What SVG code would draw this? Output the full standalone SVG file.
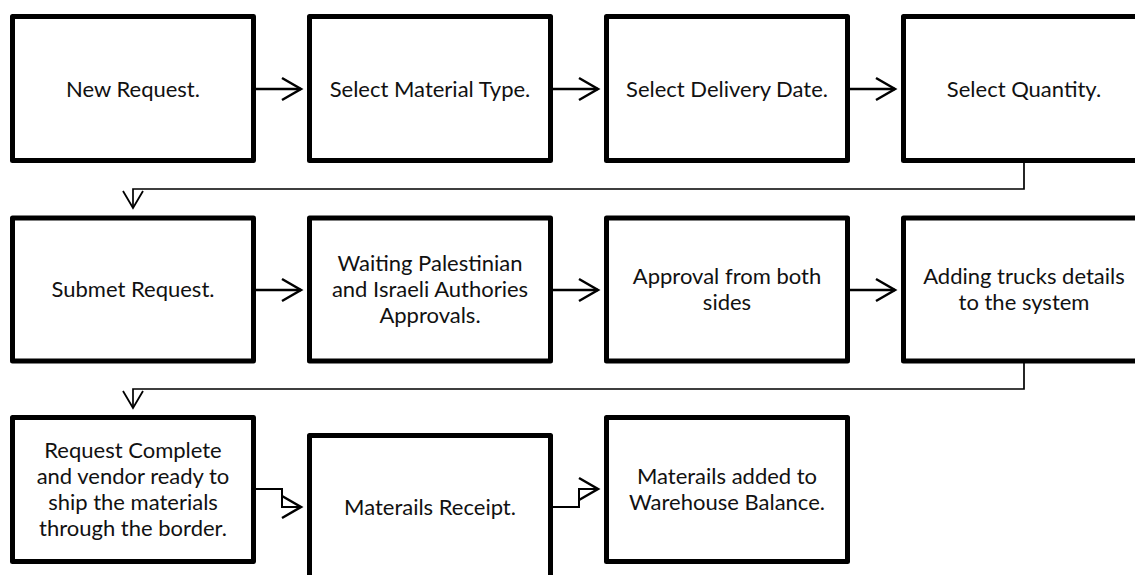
<svg xmlns="http://www.w3.org/2000/svg" width="1135" height="575" viewBox="0 0 1135 575">
  <style>
    .box { fill: #fff; stroke: #000; stroke-width: 5; stroke-linejoin: round; }
    .lbl { font-family: Lato, "Open Sans", "Liberation Sans", sans-serif; font-size: 22px; fill: #111; text-anchor: middle; }
    .flow { fill: none; stroke: #000; stroke-width: 2.5; marker-end: url(#chev); }
    .elbow { fill: none; stroke: #000; stroke-width: 2; marker-end: url(#chev); }
    .wrap { fill: none; stroke: #000; stroke-width: 1.7; marker-end: url(#chevThin); }
  </style>
  <defs>
    <!-- open chevron heads, sized in canvas pixels -->
    <marker id="chev" markerUnits="userSpaceOnUse" viewBox="0 0 24 26" markerWidth="24" markerHeight="26" refX="21" refY="13" orient="auto">
      <path d="M2,2 L21,13 L2,24" fill="none" stroke="#000" stroke-width="2.5"/>
    </marker>
    <marker id="chevThin" markerUnits="userSpaceOnUse" viewBox="0 0 24 26" markerWidth="24" markerHeight="26" refX="20" refY="13" orient="auto">
      <path d="M3,3 L20,13 L3,23" fill="none" stroke="#000" stroke-width="1.8"/>
    </marker>
  </defs>

  <g id="connectors">
    <!-- row 1 -->
    <path class="flow" d="M256,89 H301"/>
    <path class="flow" d="M553,89 H598"/>
    <path class="flow" d="M850,89 H895"/>
    <!-- wrap to row 2 -->
    <path class="wrap" d="M1024,162 V189 H133 V208"/>
    <!-- row 2 -->
    <path class="flow" d="M256,290 H301"/>
    <path class="flow" d="M553,290 H598"/>
    <path class="flow" d="M850,290 H895"/>
    <!-- wrap to row 3 -->
    <path class="wrap" d="M1024,362 V389 H133 V408"/>
    <!-- row 3 -->
    <path class="elbow" d="M256,489 H282 V507 H301"/>
    <path class="elbow" d="M553,507 H579 V489 H598"/>
  </g>

  <g id="new-request">
    <rect class="box" x="12.5" y="16.5" width="241" height="144"/>
    <text class="lbl" x="133" y="96.5">New Request.</text>
  </g>
  <g id="select-material-type">
    <rect class="box" x="309.5" y="16.5" width="241" height="144"/>
    <text class="lbl" x="430" y="96.5">Select Material Type.</text>
  </g>
  <g id="select-delivery-date">
    <rect class="box" x="606.5" y="16.5" width="241" height="144"/>
    <text class="lbl" x="727" y="96.5">Select Delivery Date.</text>
  </g>
  <g id="select-quantity">
    <rect class="box" x="903.5" y="16.5" width="241" height="144"/>
    <text class="lbl" x="1024" y="96.5">Select Quantity.</text>
  </g>

  <g id="submit-request">
    <rect class="box" x="12.5" y="218" width="241" height="143"/>
    <text class="lbl" x="133" y="297">Submet Request.</text>
  </g>
  <g id="waiting-approvals">
    <rect class="box" x="309.5" y="218" width="241" height="143"/>
    <text class="lbl" x="430" y="271">Waiting Palestinian</text>
    <text class="lbl" x="430" y="297">and Israeli Authories</text>
    <text class="lbl" x="430" y="323">Approvals.</text>
  </g>
  <g id="approval-both-sides">
    <rect class="box" x="606.5" y="218" width="241" height="143"/>
    <text class="lbl" x="727" y="284">Approval from both</text>
    <text class="lbl" x="727" y="310">sides</text>
  </g>
  <g id="adding-trucks">
    <rect class="box" x="903.5" y="218" width="241" height="143"/>
    <text class="lbl" x="1024" y="284">Adding trucks details</text>
    <text class="lbl" x="1024" y="310">to the system</text>
  </g>

  <g id="request-complete">
    <rect class="box" x="12.5" y="417.5" width="241" height="144"/>
    <text class="lbl" x="133" y="458">Request Complete</text>
    <text class="lbl" x="133" y="484">and vendor ready to</text>
    <text class="lbl" x="133" y="510">ship the materials</text>
    <text class="lbl" x="133" y="536">through the border.</text>
  </g>
  <g id="materials-receipt">
    <rect class="box" x="309.5" y="435.5" width="241" height="144"/>
    <text class="lbl" x="430" y="515">Materails Receipt.</text>
  </g>
  <g id="warehouse-balance">
    <rect class="box" x="606.5" y="417.5" width="241" height="144"/>
    <text class="lbl" x="727" y="484">Materails added to</text>
    <text class="lbl" x="727" y="510">Warehouse Balance.</text>
  </g>
</svg>
